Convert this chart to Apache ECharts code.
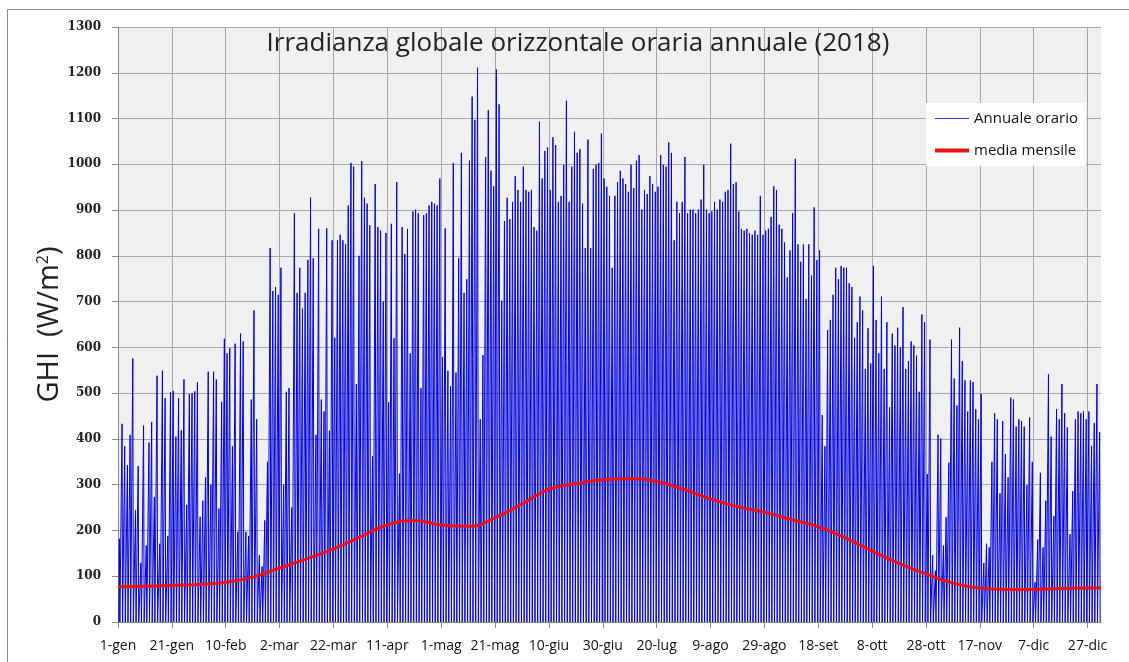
<!DOCTYPE html>
<html>
<head>
<meta charset="utf-8">
<script src="https://cdn.jsdelivr.net/npm/echarts/dist/echarts.min.js"></script>
<style>
  html, body { margin: 0; padding: 0; background: #fff; }
  #chart { width: 1129px; height: 662px; }
</style>
</head>
<body>
<div id="chart"></div>
<script>
// etichette asse x (ogni 20 giorni)
const xLabels = ['1-gen', '21-gen', '10-feb', '2-mar', '22-mar', '11-apr', '1-mag', '21-mag', '10-giu',
  '30-giu', '20-lug', '9-ago', '29-ago', '18-set', '8-ott', '28-ott', '17-nov', '7-dic', '27-dic']

// picco giornaliero di GHI (W/m2), un valore per giorno
const gen = [182, 433, 384, 343, 409, 576, 244, 341, 129, 429, 167, 392, 437, 273, 538, 171, 549, 489, 188, 502, 505, 405, 489, 419, 530, 256, 498, 500, 504, 524, 230]
const feb = [265, 316, 547, 300, 547, 530, 248, 481, 619, 587, 598, 384, 608, 197, 630, 613, 197, 188, 486, 681, 443, 146, 121, 222, 350, 817, 723, 732]
const mar = [715, 774, 300, 503, 511, 250, 893, 719, 774, 685, 719, 791, 927, 795, 409, 859, 486, 460, 860, 418, 834, 621, 834, 846, 834, 825, 910, 1003, 995, 520, 800]
const apr = [1007, 927, 914, 867, 362, 957, 863, 855, 700, 850, 480, 870, 620, 961, 324, 863, 804, 859, 587, 897, 901, 893, 511, 889, 893, 910, 918, 914, 910, 969]
const mag = [579, 860, 549, 515, 1003, 545, 795, 1025, 719, 749, 1008, 1148, 1097, 1211, 443, 583, 1016, 1118, 986, 952, 1207, 1131, 702, 876, 927, 880, 918, 974, 944, 918, 995]
const giu = [944, 940, 944, 863, 855, 1093, 969, 1029, 1037, 944, 1059, 1042, 918, 931, 999, 1139, 918, 995, 1071, 1025, 1033, 914, 817, 1054, 817, 990, 999, 1003, 1067, 969]
const lug = [951, 931, 774, 931, 961, 986, 969, 957, 940, 999, 948, 1008, 1020, 901, 944, 935, 974, 957, 940, 951, 1020, 999, 995, 1048, 1025, 834, 918, 893, 918, 1016, 893]
const ago = [901, 901, 893, 901, 923, 999, 901, 893, 897, 918, 901, 923, 918, 940, 944, 1045, 957, 961, 897, 859, 855, 859, 850, 846, 855, 846, 931, 846, 855, 859, 885]
const sett = [952, 944, 868, 859, 829, 753, 812, 893, 1012, 825, 787, 825, 706, 825, 757, 906, 791, 812, 452, 384, 638, 660, 715, 774, 749, 778, 774, 774, 740, 732]
const ott = [621, 655, 711, 681, 553, 642, 565, 778, 660, 587, 711, 553, 655, 469, 630, 604, 643, 600, 688, 553, 570, 613, 604, 582, 503, 672, 655, 323, 617, 146, 112]
const nov = [409, 401, 167, 229, 348, 617, 532, 473, 643, 570, 528, 460, 528, 524, 465, 443, 498, 129, 171, 163, 350, 456, 443, 281, 439, 367, 316, 490, 486, 427]
const dic = [443, 439, 427, 299, 447, 350, 87, 180, 326, 163, 265, 541, 405, 231, 465, 443, 520, 456, 425, 192, 286, 443, 460, 456, 460, 443, 460, 385, 435, 520, 415]

// ore di luce per mese (durata della campana giornaliera)
const oreLuce = [9.5, 10.5, 12, 13.5, 14.8, 15.5, 15.2, 14, 12.5, 11, 9.8, 9.2]

// media mensile (curva rossa), letta ogni 10 giorni
const mediaGiorni = [0, 10, 20, 30, 40, 50, 60, 70, 80, 90, 100, 110, 120, 130, 140, 150, 160, 170, 180,
  190, 200, 210, 220, 230, 240, 250, 260, 270, 280, 290, 300, 310, 320, 330, 340, 350, 365]
const mediaValori = [77, 78, 80, 82, 87, 98, 118, 138, 160, 186, 212, 222, 212, 209, 228, 258, 290, 302, 311,
  313, 307, 290, 269, 252, 240, 224, 208, 184, 155, 128, 105, 85, 74, 71, 71, 73, 75]

const mesi = [gen, feb, mar, apr, mag, giu, lug, ago, sett, ott, nov, dic]

// serie oraria: per ogni giorno alba (0), mezzogiorno (picco), tramonto (0)
const orario = []
let giorno = 0
mesi.forEach((m, mi) => {
  m.forEach(p => {
    const h = giorno * 24
    const half = oreLuce[mi] / 2
    orario.push([h + 12 - half, 0], [h + 12, p], [h + 12 + half, 0])
    giorno++
  })
})
const media = mediaGiorni.map((d, i) => [d * 24, mediaValori[i]])
const labelTicks = xLabels.map((l, i) => i * 480)

const chart = echarts.init(document.getElementById('chart'))
chart.setOption({
  animation: false,
  backgroundColor: '#fff',
  title: {
    text: 'Irradianza globale orizzontale oraria annuale (2018)',
    left: 573,
    textAlign: 'center',
    top: 26,
    textStyle: { fontFamily: 'Open Sans', fontSize: 26, fontWeight: 'normal', color: '#222' }
  },
  legend: {
    orient: 'vertical',
    left: 926,
    top: 103,
    backgroundColor: '#fff',
    padding: [8, 8, 8, 7],
    itemWidth: 34,
    itemHeight: 14,
    itemGap: 17,
    itemStyle: { opacity: 0 },
    textStyle: { fontFamily: 'Open Sans', fontSize: 15, color: '#111' },
    data: [
      { name: 'Annuale orario', lineStyle: { width: 1, color: '#3a3ad0' } },
      { name: 'media mensile', lineStyle: { width: 4 } }
    ]
  },
  graphic: [{
    type: 'rect',
    shape: { x: 7.5, y: 9.5, width: 1140, height: 670 },
    style: { fill: 'none', stroke: '#888', lineWidth: 1 },
    silent: true
  }],
  grid: {
    left: 118,
    right: 28,
    top: 27,
    bottom: 40,
    show: true,
    backgroundColor: '#f0f0f0',
    borderWidth: 0
  },
  xAxis: {
    type: 'value',
    min: 0,
    max: 8760,
    interval: 240,
    axisLine: { lineStyle: { color: '#888' } },
    axisTick: { show: true, length: 6, customValues: labelTicks, lineStyle: { color: '#888' } },
    splitLine: { show: true, lineStyle: { color: '#a6a6a6', width: 1 } },
    axisLabel: {
      margin: 17,
      customValues: labelTicks,
      fontFamily: 'Open Sans',
      fontSize: 14,
      color: '#111',
      formatter: v => xLabels[Math.round(v / 480)] || ''
    }
  },
  yAxis: {
    type: 'value',
    min: 0,
    max: 1300,
    interval: 100,
    name: 'GHI  (W/m{sup|2})',
    nameLocation: 'middle',
    nameGap: 54,
    nameMoveOverlap: false,
    nameTextStyle: {
      fontFamily: 'Open Sans',
      fontSize: 29,
      color: '#222',
      rich: { sup: { fontFamily: 'Open Sans', fontSize: 16, color: '#222', verticalAlign: 'top', padding: [0, 0, 12, 0] } }
    },
    axisLine: { show: true, lineStyle: { color: '#888' } },
    axisTick: { show: true, length: 6, lineStyle: { color: '#888' } },
    splitLine: { show: true, lineStyle: { color: '#a6a6a6', width: 1 } },
    axisLabel: {
      margin: 17,
      fontFamily: 'DejaVu Serif',
      fontWeight: 'bold',
      fontSize: 12,
      color: '#222',
      formatter: v => String(v)
    }
  },
  series: [
    {
      name: 'Annuale orario',
      type: 'line',
      data: orario,
      symbol: 'none',
      lineStyle: { color: '#0000e0', width: 1 },
      itemStyle: { color: '#0000e0' },
      z: 2
    },
    {
      name: 'media mensile',
      type: 'line',
      data: media,
      smooth: true,
      symbol: 'none',
      lineStyle: { color: '#ee1111', width: 3 },
      itemStyle: { color: '#ee1111' },
      z: 3
    }
  ]
})
</script>
</body>
</html>
